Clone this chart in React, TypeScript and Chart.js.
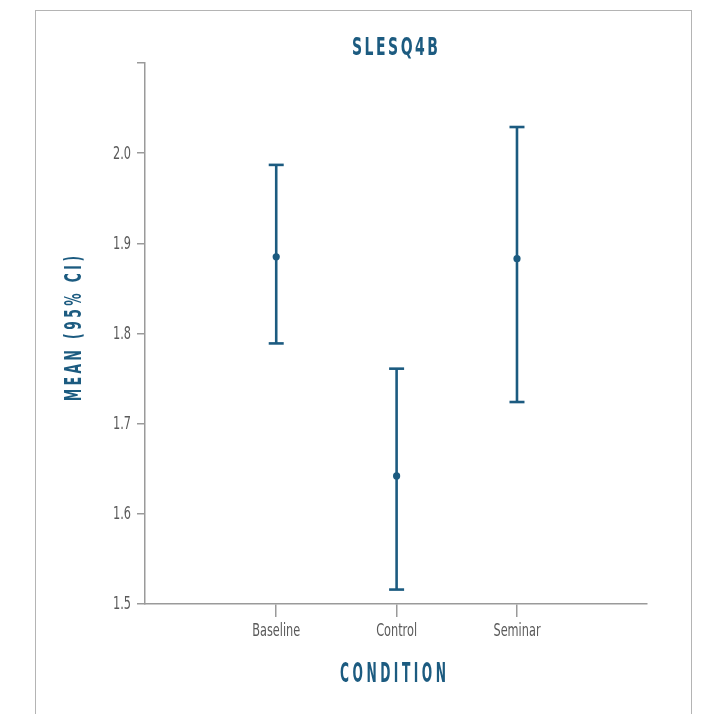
import React, { useEffect, useRef } from "react";
import { Chart, registerables } from "chart.js";

Chart.register(...registerables);

const chartTitle = "SLESQ4B";
const xTitle = "CONDITION";
const yTitle = "MEAN (95% CI)";
const categories = ["Baseline", "Control", "Seminar"];
const means = [1.885, 1.642, 1.883];
const lower = [1.789, 1.516, 1.724];
const upper = [1.987, 1.761, 2.029];
const yTicks = [1.5, 1.6, 1.7, 1.8, 1.9, 2.0, 2.1];
const yLabelMax = 2.0;

const BLUE = "#1c5b80";
const GREY = "#9a9a9a";
const LABEL = "#5a5a5a";
const NARROW = '"Liberation Sans Narrow", "DejaVu Sans Condensed", "Roboto", sans-serif';

function drawSpaced(ctx: CanvasRenderingContext2D, text: string, cx: number, cy: number, size: number, spacing: number, targetW: number, rot: number) {
  ctx.save();
  ctx.font = `bold ${size}px ${NARROW}`;
  ctx.fillStyle = BLUE;
  ctx.textBaseline = "alphabetic";
  ctx.textAlign = "left";
  const chars = Array.from(text);
  const widths = chars.map((c) => ctx.measureText(c).width);
  const natural = widths.reduce((a, b) => a + b, 0);
  const hs = (targetW - spacing * (chars.length - 1)) / natural;
  ctx.translate(cx, cy);
  ctx.rotate(rot);
  ctx.scale(hs, 1);
  let x = -(natural + (spacing / hs) * (chars.length - 1)) / 2;
  chars.forEach((c, i) => {
    ctx.fillText(c, x, 0);
    x += widths[i] + spacing / hs;
  });
  ctx.restore();
}

function drawNarrow(ctx: CanvasRenderingContext2D, text: string, x: number, y: number, align: CanvasTextAlign, baseline: CanvasTextBaseline) {
  ctx.save();
  ctx.font = `17px ${NARROW}`;
  ctx.fillStyle = LABEL;
  ctx.textAlign = align;
  ctx.textBaseline = baseline;
  ctx.translate(x, y);
  ctx.scale(0.74, 1);
  ctx.fillText(text, 0, 0);
  ctx.restore();
}

const textPlugin = {
  id: "texts",
  afterDraw(chart: any) {
    const ctx = chart.ctx as CanvasRenderingContext2D;
    const { left, right, top, bottom } = chart.chartArea;
    const mid = (left + right) / 2;
    drawSpaced(ctx, chartTitle, mid - 1, 55, 24, 2.5, 86, 0);
    drawSpaced(ctx, xTitle, mid - 3, 682, 26, 3.5, 106, 0);
    drawSpaced(ctx, yTitle, 81, (top + bottom) / 2 - 5, 23, 3.5, 145, -Math.PI / 2);
    const xs = chart.scales.x;
    xs.ticks.forEach((t: any) => {
      const lbl = categories[Math.round(t.value) - 1];
      if (lbl) drawNarrow(ctx, lbl, xs.getPixelForValue(t.value), 636, "center", "alphabetic");
    });
    const ys = chart.scales.y;
    ys.ticks.forEach((t: any) => {
      if (t.value > yLabelMax + 1e-6) return;
      drawNarrow(ctx, Number(t.value).toFixed(1), 131, ys.getPixelForValue(t.value) + 1, "right", "middle");
    });
  },
};

export default function App() {
  const ref = useRef<HTMLCanvasElement | null>(null);
  useEffect(() => {
    document.body.style.margin = "0";
    const ctx = ref.current!.getContext("2d")!;
    const errDatasets = categories.map((c, i) => ({
      type: "line" as const,
      label: c + " CI",
      data: [
        { x: i + 1, y: lower[i] },
        { x: i + 1, y: upper[i] },
      ],
      borderColor: BLUE,
      borderWidth: 2.6,
      pointStyle: "line" as const,
      pointRadius: 7.5,
      pointBorderWidth: 2.6,
      pointBorderColor: BLUE,
      showLine: true,
    }));
    const chart = new Chart(ctx, {
      type: "scatter",
      data: {
        datasets: [
          ...errDatasets,
          {
            type: "scatter" as const,
            label: "Mean",
            data: means.map((m, i) => ({ x: i + 1, y: m })),
            pointRadius: 3.6,
            pointBackgroundColor: BLUE,
            pointBorderWidth: 0,
            borderColor: BLUE,
          },
        ] as any,
      },
      options: {
        animation: false,
        responsive: true,
        maintainAspectRatio: false,
        layout: { padding: { top: 63, right: 55, left: 0, bottom: 0 } },
        plugins: { legend: { display: false }, tooltip: { enabled: false }, title: { display: false } },
        scales: {
          x: {
            type: "linear",
            min: -0.09,
            max: 4.08,
            afterFit: (s: any) => { s.height = 110; },
            afterBuildTicks: (s: any) => { s.ticks = categories.map((_, i) => ({ value: i + 1 })); },
            ticks: {
              callback: (v: any) => categories[Number(v) - 1] ?? "",
              color: "rgba(0,0,0,0)",
              font: { family: NARROW, size: 16 },
              padding: 2,
              maxRotation: 0,
              autoSkip: false,
            },
            grid: { display: true, drawOnChartArea: false, drawTicks: true, tickLength: 13, color: GREY, lineWidth: 1.5 },
            border: { display: true, color: GREY, width: 1.5 },
          },
          y: {
            type: "linear",
            min: 1.5,
            max: 2.1,
            afterFit: (s: any) => { s.width = 145; },
            afterBuildTicks: (s: any) => { s.ticks = yTicks.map((v) => ({ value: v })); },
            ticks: {
              callback: (v: any) => (Number(v) > yLabelMax + 1e-6 ? "" : Number(v).toFixed(1)),
              color: "rgba(0,0,0,0)",
              font: { family: NARROW, size: 16 },
              padding: 5,
            },
            grid: { display: true, drawOnChartArea: false, drawTicks: true, tickLength: 8, color: GREY, lineWidth: 1.5 },
            border: { display: true, color: GREY, width: 1.5 },
          },
        },
      },
      plugins: [textPlugin],
    });
    return () => chart.destroy();
  }, []);
  return (
    <div style={{ position: "fixed", left: 0, top: 0, width: 702, height: 714, background: "#fff" }}>
      <div
        style={{
          position: "absolute",
          left: 35,
          top: 10,
          width: 657,
          height: 720,
          boxSizing: "border-box",
          border: "1.5px solid #b4b4b4",
        }}
      />
      <div style={{ position: "absolute", left: 0, top: 0, width: 702, height: 714 }}>
        <canvas ref={ref} />
      </div>
    </div>
  );
}
